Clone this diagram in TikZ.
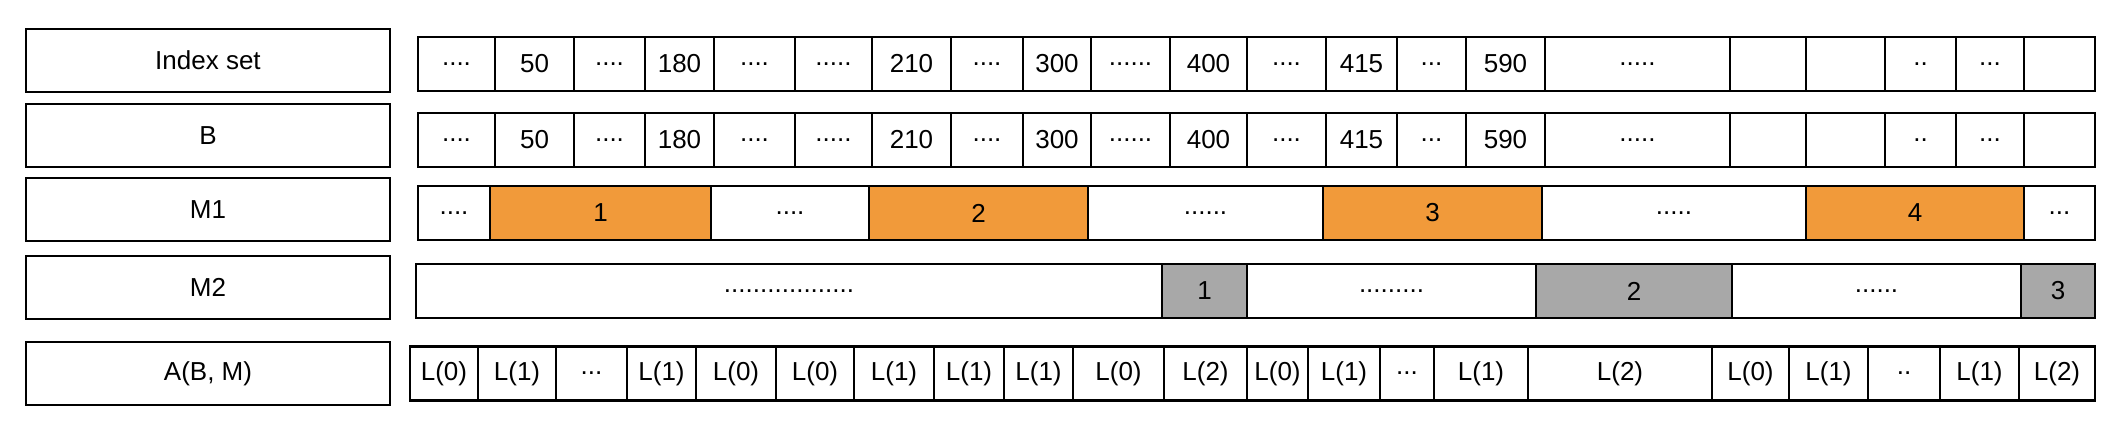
\documentclass[tikz,border=0pt]{standalone}
\usepackage{fontspec}
\setmainfont{Liberation Sans}
\definecolor{segorange}{HTML}{F19A3A}
\definecolor{seggrey}{HTML}{A8A8A8}
\newcommand\dotrun[1]{\foreach\k in {1,...,#1}{.}}
\tikzset{
  namebox/.style={draw, line width=1.2pt, inner sep=0pt, minimum width=182pt, minimum height=31.5pt, font=\fontsize{13}{15}\selectfont},
  cell/.style={draw, line width=1.2pt, inner sep=0pt, minimum height=27pt, font=\fontsize{13}{15}\selectfont},
  hotcell/.style={cell, fill=segorange},
  greycell/.style={cell, fill=seggrey}
}
\begin{document}
\begin{tikzpicture}[x=0.5pt,y=-0.5pt]
\useasboundingbox (0,0) rectangle (2122,436);
% row names
\node[namebox] (idxname) at (208,60.5) {Index set};
\node[namebox] (bname) at (208,135.5) {B};
\node[namebox] (mname1) at (208,209.5) {M1};
\node[namebox] (mname2) at (208,287.5) {M2};
\node[namebox] (aname) at (208,373.5) {A(B, M)};
% index set and B
\foreach \a/\b/\t [count=\i] in {418/495/\dotrun4,495/574/50,574/645/\dotrun4,645/714/180,714/795/\dotrun4,795/872/\dotrun5,
    872/951/210,951/1023/\dotrun4,1023/1091/300,1091/1170/\dotrun6,1170/1247/400,1247/1326/\dotrun4,1326/1397/415,
    1397/1466/\dotrun3,1466/1545/590,1545/1730/\dotrun5,1730/1806/{},1806/1885/{},1885/1956/\dotrun2,1956/2024/\dotrun3,2024/2095/{}}{
  \node[cell, minimum width={(\b-\a)*0.5pt}] (idx\i) at ({(\a+\b)/2},64) {\t};
  \node[cell, minimum width={(\b-\a)*0.5pt}] (b\i) at ({(\a+\b)/2},140) {\t};
}
% M1
\foreach \a/\b/\t/\s [count=\i] in {418/490/\dotrun4/cell,490/711/1/hotcell,711/869/\dotrun4/cell,869/1088/2/hotcell,
    1088/1323/\dotrun6/cell,1323/1542/3/hotcell,1542/1806/\dotrun5/cell,1806/2024/4/hotcell,2024/2095/\dotrun3/cell}
  \node[\s, minimum width={(\b-\a)*0.5pt}] (mone\i) at ({(\a+\b)/2},213) {\t};
% M2
\foreach \a/\b/\t/\s [count=\i] in {416/1162/\dotrun{18}/cell,1162/1247/1/greycell,1247/1536/\dotrun9/cell,
    1536/1732/2/greycell,1732/2021/\dotrun6/cell,2021/2095/3/greycell}
  \node[\s, minimum width={(\b-\a)*0.5pt}] (mtwo\i) at ({(\a+\b)/2},291) {\t};
% A(B, M)
\foreach \a/\b/\t [count=\i] in {410/478/L(0),478/556/L(1),556/627/\dotrun3,627/696/L(1),696/776/L(0),776/854/L(0),
    854/934/L(1),934/1004/L(1),1004/1073/L(1),1073/1164/L(0),1164/1247/L(2),1247/1308/L(0),1308/1380/L(1),
    1380/1434/\dotrun3,1434/1528/L(1),1528/1712/L(2),1712/1789/L(0),1789/1868/L(1),1868/1940/\dotrun2,1940/2019/L(1),2019/2095/L(2)}
  \node[cell, minimum width={(\b-\a)*0.5pt}] (acc\i) at ({(\a+\b)/2},373.5) {\t};
\end{tikzpicture}
\end{document}
